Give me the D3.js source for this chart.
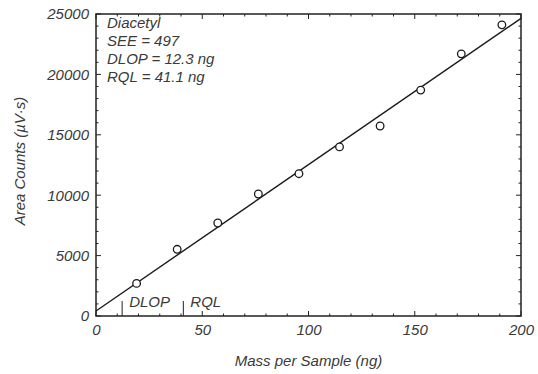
<!DOCTYPE html>
<html><head><meta charset="utf-8">
<script src="https://cdn.jsdelivr.net/npm/d3@7"></script>
<style>
body{margin:0;background:#fff;}
text{font-family:"Liberation Sans",Arial,sans-serif;font-style:italic;fill:#3a3a3a;}
</style></head>
<body><svg id="c" width="538" height="374"></svg>
<script>
// Data
const massNg = [19.1, 38.2, 57.3, 76.4, 95.5, 114.6, 133.7, 152.8, 171.9, 191.0];
const areaCounts = [2700, 5520, 7700, 10100, 11780, 14000, 15730, 18700, 21700, 24100];
const fitX = [0, 200];
const fitY = [414, 24640];
const xTicks = [0, 50, 100, 150, 200];
const yTicks = [0, 5000, 10000, 15000, 20000, 25000];
const limitNames = ["DLOP", "RQL"];
const limitValues = [12.3, 41.1];
const annotation = ["Diacetyl", "SEE = 497", "DLOP = 12.3 ng", "RQL = 41.1 ng"];

const FS = 15;
const svg = d3.select("#c");
const L = 96, R = 521, T = 14, B = 316;
const x = d3.scaleLinear().domain([0, 200]).range([L, R]);
const y = d3.scaleLinear().domain([0, 25000]).range([B, T]);

// minor ticks
const xMinor = d3.range(0, 201, 10);
const yMinor = d3.range(0, 25001, 1000);
const g = svg.append("g").attr("stroke", "#222").attr("stroke-width", 1);
xMinor.forEach(v => {
  const len = v % 50 === 0 ? 5 : 2.5;
  g.append("line").attr("x1", x(v)).attr("x2", x(v)).attr("y1", B).attr("y2", B - len);
  g.append("line").attr("x1", x(v)).attr("x2", x(v)).attr("y1", T).attr("y2", T + len);
});
yMinor.forEach(v => {
  const len = v % 5000 === 0 ? 5 : 2.5;
  g.append("line").attr("y1", y(v)).attr("y2", y(v)).attr("x1", L).attr("x2", L + len);
  g.append("line").attr("y1", y(v)).attr("y2", y(v)).attr("x1", R).attr("x2", R - len);
});

// axes labels via d3 axes
const xAxis = svg.append("g").attr("transform", `translate(0,${B})`)
  .call(d3.axisBottom(x).tickValues(xTicks).tickSize(0).tickPadding(8).tickFormat(d3.format("d")));
xAxis.select(".domain").remove();
xAxis.selectAll("text").attr("font-size", FS).attr("fill", "#3a3a3a").style("font-family", "Liberation Sans, Arial, sans-serif");
const yAxis = svg.append("g").attr("transform", `translate(${L},0)`)
  .call(d3.axisLeft(y).tickValues(yTicks).tickSize(0).tickPadding(7).tickFormat(d3.format("d")));
yAxis.select(".domain").remove();
yAxis.selectAll("text").attr("font-size", FS).attr("fill", "#3a3a3a").style("font-family", "Liberation Sans, Arial, sans-serif");

// frame
svg.append("rect").attr("x", L).attr("y", T).attr("width", R - L).attr("height", B - T)
  .attr("fill", "none").attr("stroke", "#222").attr("stroke-width", 1.5);

// fit line
svg.append("line").attr("x1", x(fitX[0])).attr("y1", y(fitY[0]))
  .attr("x2", x(fitX[1])).attr("y2", y(fitY[1]))
  .attr("stroke", "#1a1a1a").attr("stroke-width", 1.4);

// points
svg.selectAll("circle.pt").data(massNg).enter().append("circle")
  .attr("cx", d => x(d)).attr("cy", (d, i) => y(areaCounts[i])).attr("r", 3.8)
  .attr("fill", "#fff").attr("stroke", "#1a1a1a").attr("stroke-width", 1.3);

// limit markers
limitValues.forEach((v, i) => {
  svg.append("line").attr("x1", x(v)).attr("x2", x(v)).attr("y1", B).attr("y2", B - 15)
    .attr("stroke", "#222").attr("stroke-width", 1);
  svg.append("text").attr("x", x(v) + 7).attr("y", B - 9).attr("font-size", FS).text(limitNames[i]);
});

// annotation
annotation.forEach((t, i) => {
  svg.append("text").attr("x", 107).attr("y", 28 + i * 18).attr("font-size", FS).text(t);
});

// axis titles
svg.append("text").attr("x", (L + R) / 2).attr("y", 366).attr("text-anchor", "middle")
  .attr("font-size", FS).text("Mass per Sample (ng)");
svg.append("text").attr("transform", "translate(25,161) rotate(-90)").attr("text-anchor", "middle")
  .attr("font-size", FS).text("Area Counts (\u00b5V\u00b7s)");
</script></body></html>
